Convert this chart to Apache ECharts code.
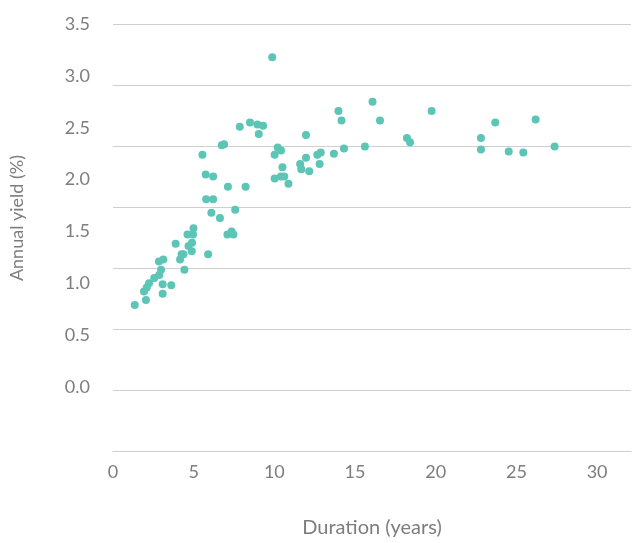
<!DOCTYPE html>
<html>
<head>
<meta charset="utf-8">
<script src="https://cdn.jsdelivr.net/npm/echarts@6/dist/echarts.min.js"></script>
<style>
  html, body { margin: 0; padding: 0; background: #fff; }
  #chart { width: 634px; height: 543px; }
</style>
</head>
<body>
<div id="chart"></div>
<script>
// duration (years) and annual yield (%) for each bond
const durations = [
  1.34, 2.03, 1.91, 2.08, 2.22, 2.54, 2.85, 2.96, 3.06, 3.06,
  3.59, 2.83, 3.10, 4.40, 3.86, 4.13, 4.23, 4.34, 4.85, 4.65,
  4.87, 4.59, 4.93, 4.96, 5.86, 7.05, 7.31, 7.42, 6.59, 6.06,
  7.53, 5.74, 6.17, 7.08, 8.17, 5.71, 6.17, 5.51, 6.70, 6.84,
  7.81, 8.44, 8.90, 9.25, 8.98, 9.81, 9.96, 10.15, 10.35, 10.44,
  9.96, 10.34, 10.55, 10.81, 11.53, 11.60, 11.89, 12.09, 12.59, 12.80,
  12.73, 13.61, 14.23, 11.89, 13.89, 14.08, 15.52, 15.99, 16.45, 18.11,
  18.30, 19.63, 22.67, 22.67, 23.55, 24.38, 25.28, 26.04, 27.21
];
const yields = [
  0.79, 0.84, 0.92, 0.96, 1.00, 1.05, 1.08, 1.13, 0.99, 0.90,
  0.98, 1.21, 1.23, 1.13, 1.38, 1.23, 1.28, 1.28, 1.31, 1.36,
  1.39, 1.47, 1.47, 1.53, 1.28, 1.47, 1.50, 1.47, 1.63, 1.68,
  1.71, 1.81, 1.81, 1.93, 1.93, 2.05, 2.03, 2.24, 2.33, 2.34,
  2.51, 2.55, 2.53, 2.52, 2.44, 3.18, 2.24, 2.31, 2.28, 2.12,
  2.01, 2.03, 2.03, 1.96, 2.15, 2.10, 2.21, 2.08, 2.24, 2.26,
  2.15, 2.25, 2.30, 2.43, 2.66, 2.57, 2.32, 2.75, 2.57, 2.40,
  2.36, 2.66, 2.40, 2.29, 2.55, 2.27, 2.26, 2.58, 2.32
];

const xTicks = [0, 5, 10, 15, 20, 25, 30];
const yTicks = [0.0, 0.5, 1.0, 1.5, 2.0, 2.5, 3.0, 3.5];

const textColor = '#7d7d7d';
const gridColor = '#cfcfcf';
const dotColor = '#5cc5b6';
const font = 'Lato, "Open Sans", sans-serif';
const xMax = 32.1;

const chart = echarts.init(document.getElementById('chart'));

chart.setOption({
  animation: false,
  backgroundColor: '#fff',
  grid: [
    // points and the y labels
    { left: 113, right: 0, top: 24, bottom: 156 },
    // gridlines and x labels (spacing differs from the labels)
    { left: 113, right: 0, top: 24, bottom: 92 },
  ],
  xAxis: [
    {
      gridIndex: 0,
      type: 'value',
      min: 0,
      max: xMax,
      show: false,
    },
    {
      gridIndex: 1,
      type: 'value',
      min: 0,
      max: xMax,
      interval: 5,
      axisLine: { show: true, lineStyle: { color: gridColor, width: 1 } },
      axisTick: { show: false },
      splitLine: { show: false },
      axisLabel: {
        color: textColor,
        fontFamily: font,
        fontSize: 18,
        margin: 12,
        formatter: (v) => (xTicks.includes(v) ? String(v) : ''),
      },
      name: 'Duration (years)',
      nameLocation: 'middle',
      nameGap: 67,
      nameTextStyle: {
        color: textColor,
        fontFamily: font,
        fontSize: 20,
      },
    },
  ],
  yAxis: [
    {
      gridIndex: 0,
      type: 'value',
      min: yTicks[0],
      max: yTicks[yTicks.length - 1],
      interval: 0.5,
      axisLine: { show: false },
      axisTick: { show: false },
      splitLine: { show: false },
      axisLabel: {
        color: textColor,
        fontFamily: font,
        fontSize: 18,
        margin: 23,
        formatter: (v) => v.toFixed(1),
      },
      name: 'Annual yield (%)',
      nameLocation: 'middle',
      nameGap: 87,
      nameTextStyle: {
        color: textColor,
        fontFamily: font,
        fontSize: 18,
        padding: [0, 25, 0, 0],
      },
    },
    {
      gridIndex: 1,
      type: 'value',
      min: 0,
      max: 7,
      interval: 1,
      axisLine: { show: false },
      axisTick: { show: false },
      axisLabel: { show: false },
      splitLine: { show: true, lineStyle: { color: gridColor, width: 1 } },
    },
  ],
  series: [
    {
      type: 'scatter',
      xAxisIndex: 0,
      yAxisIndex: 0,
      symbolSize: 8,
      itemStyle: { color: dotColor, opacity: 1 },
      data: durations.map((d, i) => [d, yields[i]]),
    },
  ],
});
</script>
</body>
</html>
